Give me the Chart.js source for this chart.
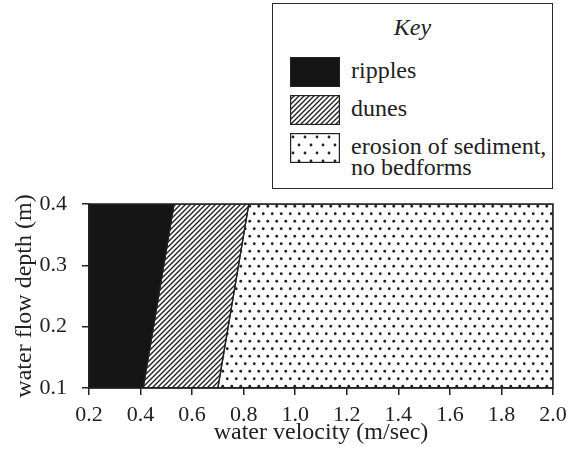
<!DOCTYPE html>
<html>
<head>
<meta charset="utf-8">
<script src="https://cdn.jsdelivr.net/npm/chart.js@4"></script>
<style>
  body { margin: 0; background: #fff; }
  #wrap { position: relative; width: 582px; height: 454px; }
  #key {
    position: absolute; left: 272px; top: 3px; width: 281px; height: 186px;
    box-sizing: border-box; border: 1.5px solid #2a2a2a; background: #fff;
    font-family: "Liberation Serif", "DejaVu Serif", serif; font-size: 24px; color: #222;
  }
  #key .title { position: absolute; left: 0; right: 0; top: 10px; text-align: center; font-style: italic; }
  #key canvas { position: absolute; left: 17px; }
  #key .lbl { position: absolute; left: 78px; line-height: 21px; }
</style>
</head>
<body>
<div id="wrap">
  <canvas id="bedforms"></canvas>
  <div id="key">
    <div class="title">Key</div>
    <canvas id="swRipples" width="50" height="30" style="top:53px"></canvas>
    <div class="lbl" style="top:56px">ripples</div>
    <canvas id="swDunes" width="50" height="30" style="top:91px"></canvas>
    <div class="lbl" style="top:94px">dunes</div>
    <canvas id="swErosion" width="50" height="30" style="top:129px"></canvas>
    <div class="lbl" style="top:132px">erosion of sediment,<br>no bedforms</div>
  </div>
</div>
<script>
// depth limits of the diagram (m) and velocity limits (m/sec)
const depthRange = [0.1, 0.4];
const velocityRange = [0.2, 2.0];
// boundary velocities at the shallow (0.1 m) and deep (0.4 m) ends
const rippleDuneBoundary = [0.41, 0.53];
const duneErosionBoundary = [0.70, 0.82];
const xTicks = [0.2, 0.4, 0.6, 0.8, 1.0, 1.2, 1.4, 1.6, 1.8, 2.0];
const yTicks = [0.1, 0.2, 0.3, 0.4];

const ink = '#222';

function hatchPattern(step) {
  const c = document.createElement('canvas');
  c.width = step; c.height = step;
  const g = c.getContext('2d');
  g.strokeStyle = ink;
  g.lineWidth = 1.4;
  g.beginPath();
  g.moveTo(-1, step + 1); g.lineTo(step + 1, -1);
  g.moveTo(-1, 1); g.lineTo(1, -1);
  g.moveTo(step - 1, step + 1); g.lineTo(step + 1, step - 1);
  g.stroke();
  return g.createPattern(c, 'repeat');
}

function dotPattern(w, h) {
  const c = document.createElement('canvas');
  c.width = w; c.height = h;
  const g = c.getContext('2d');
  g.fillStyle = ink;
  [[w / 4, h / 4], [w * 3 / 4, h * 3 / 4]].forEach(([x, y]) => {
    g.beginPath(); g.arc(x, y, 1.4, 0, Math.PI * 2); g.fill();
  });
  return g.createPattern(c, 'repeat');
}

// polygon between two boundaries, walked round so fill:'shape' closes it
function region(left, right) {
  return [
    {x: left[0], y: depthRange[0]},
    {x: right[0], y: depthRange[0]},
    {x: right[1], y: depthRange[1]},
    {x: left[1], y: depthRange[1]},
    {x: left[0], y: depthRange[0]}
  ];
}

const leftEdge = [velocityRange[0], velocityRange[0]];
const rightEdge = [velocityRange[1], velocityRange[1]];

const frame = {
  id: 'frame',
  afterDatasetsDraw(chart) {
    const {ctx, chartArea: a} = chart;
    ctx.save();
    ctx.strokeStyle = ink;
    ctx.lineWidth = 1.5;
    ctx.strokeRect(a.left, a.top, a.right - a.left, a.bottom - a.top);
    ctx.restore();
  }
};

const serif = '"Liberation Serif", "DejaVu Serif", serif';
const ctx = document.getElementById('bedforms').getContext('2d');

new Chart(ctx, {
  type: 'scatter',
  data: {
    datasets: [
      {label: 'erosion of sediment, no bedforms', data: region(duneErosionBoundary, rightEdge),
       backgroundColor: dotPattern(9, 15), borderColor: ink},
      {label: 'dunes', data: region(rippleDuneBoundary, duneErosionBoundary),
       backgroundColor: hatchPattern(5), borderColor: ink},
      {label: 'ripples', data: region(leftEdge, rippleDuneBoundary),
       backgroundColor: '#151515', borderColor: '#151515'}
    ].map(d => Object.assign(d, {showLine: true, fill: 'shape', borderWidth: 1.3, pointRadius: 0, tension: 0}))
  },
  options: {
    responsive: true,
    maintainAspectRatio: false,
    animation: false,
    layout: {padding: {top: 204, right: 29, left: 0, bottom: 0}},
    plugins: {legend: {display: false}, tooltip: {enabled: false}},
    scales: {
      x: {
        type: 'linear',
        min: velocityRange[0], max: velocityRange[1],
        afterFit: s => { s.height = 66; },
        afterBuildTicks: s => { s.ticks = xTicks.map(v => ({value: v})); },
        ticks: {font: {family: serif, size: 22}, color: ink, padding: 7, maxRotation: 0,
                callback: v => v.toFixed(1)},
        grid: {drawOnChartArea: false, tickLength: 7, color: ink, lineWidth: 1.5},
        border: {color: ink, width: 1.5},
        title: {display: true, text: 'water velocity (m/sec)', color: ink,
                font: {family: serif, size: 24}, padding: {top: 0, bottom: 7}}
      },
      y: {
        type: 'linear',
        min: depthRange[0], max: depthRange[1],
        afterFit: s => { s.width = 89; },
        afterBuildTicks: s => { s.ticks = yTicks.map(v => ({value: v})); },
        ticks: {font: {family: serif, size: 22}, color: ink, padding: 15,
                callback: v => v.toFixed(1)},
        grid: {drawOnChartArea: false, tickLength: 7, color: ink, lineWidth: 1.5},
        border: {color: ink, width: 1.5},
        title: {display: true, text: 'water flow depth (m)', color: ink,
                font: {family: serif, size: 24}, padding: {top: 10, bottom: 0}}
      }
    }
  },
  plugins: [frame]
});

// key swatches share the fills used in the plot
function swatch(id, fill) {
  const c = document.getElementById(id);
  const g = c.getContext('2d');
  g.fillStyle = fill;
  g.fillRect(0, 0, c.width, c.height);
  g.strokeStyle = ink;
  g.lineWidth = 1.2;
  g.strokeRect(0.6, 0.6, c.width - 1.2, c.height - 1.2);
}
swatch('swRipples', '#151515');
swatch('swDunes', hatchPattern(5));
swatch('swErosion', dotPattern(12, 16));
</script>
</body>
</html>
